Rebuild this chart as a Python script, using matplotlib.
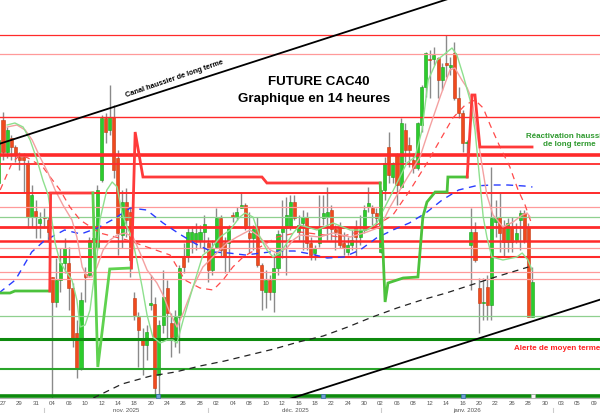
import matplotlib
matplotlib.use("Agg")
import matplotlib.pyplot as plt

plt.rcParams['font.family'] = ['Liberation Sans', 'DejaVu Sans']

# ---------------- DATA ----------------
opens = [8217, 8280, 8248, 8262, 8253, 8243, 8243, 8237, 8183, 8189,
         8177, 8183, 8180, 8123, 8098, 8120, 8137, 8137, 8112, 8067,
         8032, 8126, 8125, 8158, 8153, 8220, 8282, 8270, 8283, 8242,
         8165, 8198, 8188, 8102, 8083, 8062, 8055, 8095, 8096, 8025,
         8075, 8112, 8077, 8063, 8083, 8143, 8143, 8160, 8160, 8160,
         8168, 8157, 8130, 8153, 8182, 8157, 8157, 8185, 8183, 8192,
         8195, 8167, 8162, 8172, 8135, 8108, 8120, 8108, 8132, 8168,
         8172, 8173, 8198, 8168, 8177, 8183, 8157, 8147, 8157, 8182,
         8183, 8190, 8171, 8173, 8157, 8148, 8155, 8173, 8163, 8170,
         8193, 8192, 8187, 8148, 8210, 8253, 8223, 8245, 8213, 8270,
         8255, 8240, 8232, 8275, 8313, 8341, 8341, 8342, 8320, 8337,
         8333, 8347, 8302, 8287, 8257, 8155, 8168, 8112, 8097, 8113,
         8095, 8178, 8183, 8173, 8158, 8173, 8160, 8180, 8187, 8173,
         8083]
highs = [8280, 8288, 8273, 8265, 8255, 8248, 8247, 8240, 8215, 8200,
         8188, 8192, 8183, 8123, 8142, 8152, 8162, 8153, 8117, 8080,
         8108, 8133, 8163, 8168, 8215, 8285, 8287, 8315, 8295, 8250,
         8210, 8212, 8193, 8108, 8088, 8072, 8075, 8125, 8103, 8080,
         8130, 8120, 8087, 8090, 8135, 8157, 8172, 8174, 8177, 8175,
         8185, 8163, 8160, 8192, 8185, 8163, 8175, 8188, 8193, 8208,
         8197, 8188, 8175, 8183, 8137, 8130, 8125, 8147, 8170, 8200,
         8203, 8205, 8205, 8185, 8190, 8188, 8163, 8155, 8205, 8205,
         8213, 8195, 8175, 8178, 8168, 8163, 8170, 8180, 8185, 8195,
         8213, 8195, 8192, 8210, 8243, 8268, 8238, 8247, 8282, 8277,
         8263, 8247, 8278, 8315, 8348, 8350, 8353, 8343, 8337, 8365,
         8343, 8358, 8313, 8290, 8260, 8192, 8178, 8122, 8122, 8125,
         8233, 8200, 8207, 8180, 8182, 8183, 8177, 8190, 8190, 8177,
         8133]
lows = [8210, 8240, 8242, 8240, 8238, 8230, 8208, 8172, 8173, 8162,
        8162, 8172, 8158, 8000, 8093, 8108, 8127, 8090, 8053, 8022,
        8030, 8098, 8123, 8145, 8150, 8218, 8257, 8265, 8222, 8145,
        8152, 8163, 8123, 8080, 8033, 8025, 8040, 8090, 8004, 8005,
        8067, 8060, 8043, 8053, 8047, 8127, 8138, 8147, 8150, 8152,
        8148, 8118, 8125, 8152, 8143, 8127, 8128, 8178, 8180, 8192,
        8170, 8147, 8150, 8133, 8090, 8092, 8100, 8088, 8125, 8142,
        8125, 8170, 8180, 8160, 8150, 8150, 8140, 8140, 8153, 8175,
        8160, 8160, 8150, 8152, 8145, 8145, 8150, 8143, 8155, 8167,
        8188, 8175, 8175, 8147, 8200, 8217, 8217, 8195, 8212, 8238,
        8233, 8227, 8230, 8268, 8303, 8302, 8335, 8302, 8310, 8323,
        8325, 8300, 8282, 8248, 8238, 8110, 8138, 8067, 8080, 8080,
        8080, 8163, 8148, 8143, 8148, 8148, 8157, 8150, 8157, 8083,
        8083]
closes = [8260, 8248, 8270, 8253, 8245, 8240, 8240, 8183, 8205, 8183,
          8181, 8182, 8168, 8098, 8120, 8137, 8152, 8112, 8060, 8032,
          8100, 8123, 8160, 8162, 8210, 8282, 8268, 8283, 8230, 8167,
          8198, 8180, 8140, 8085, 8070, 8055, 8068, 8097, 8012, 8075,
          8103, 8087, 8063, 8083, 8132, 8133, 8168, 8168, 8167, 8168,
          8176, 8130, 8152, 8182, 8150, 8143, 8172, 8183, 8188, 8195,
          8172, 8162, 8171, 8135, 8110, 8120, 8108, 8132, 8166, 8172,
          8185, 8198, 8182, 8175, 8183, 8157, 8145, 8152, 8172, 8187,
          8188, 8171, 8168, 8155, 8153, 8155, 8160, 8163, 8170, 8190,
          8197, 8187, 8182, 8210, 8237, 8225, 8237, 8215, 8277, 8250,
          8250, 8232, 8277, 8313, 8347, 8340, 8345, 8320, 8333, 8335,
          8335, 8302, 8287, 8257, 8258, 8168, 8140, 8097, 8098, 8095,
          8182, 8183, 8167, 8158, 8177, 8158, 8167, 8187, 8160, 8083,
          8118]

# short moving average (light green)
ma_fast_x = [2.0, 3.9, 5.9, 7.6, 9.3, 10.7, 12.0, 12.9, 13.7, 14.9, 16.1, 17.8, 19.0,
             19.8, 21.0, 22.2, 22.9, 23.9, 24.6, 26.3, 27.6, 28.8, 30.0, 31.2, 32.4,
             33.6, 34.9, 36.1, 37.5, 39.3, 41.0, 42.4, 43.4, 44.9, 47.3, 49.7, 51.4,
             53.9, 56.3, 58.7, 60.0, 61.9, 63.6, 65.3, 66.8, 68.5, 70.2, 71.7, 73.4,
             77.5, 81.4, 85.6, 89.7, 92.1, 93.3, 95.3, 97.7, 99.4, 101.4, 103.1, 104.6,
             106.8, 109.2, 110.4, 111.6, 113.1, 114.8, 116.0, 116.7, 118.0, 118.9,
             120.1, 122.8, 126.2, 127.5, 128.9, 129.9]
ma_fast_y = [8275, 8277, 8273, 8260, 8240, 8220, 8205, 8180, 8157, 8138, 8130, 8120, 8100,
             8073, 8075, 8090, 8113, 8145, 8180, 8210, 8218, 8213, 8187, 8173, 8163,
             8140, 8113, 8085, 8063, 8057, 8060, 8060, 8057, 8080, 8113, 8145, 8150,
             8163, 8170, 8183, 8187, 8183, 8163, 8150, 8143, 8147, 8157, 8167, 8175,
             8170, 8177, 8170, 8170, 8177, 8187, 8203, 8223, 8237, 8243, 8270, 8320,
             8340, 8348, 8352, 8345, 8325, 8300, 8270, 8240, 8183, 8163,
             8143, 8140, 8143, 8147, 8140, 8130]

# medium moving average (pink)
ma_mid_x = [2.0, 4.4, 6.4, 8.1, 10.0, 12.0, 13.7, 15.6, 17.8, 19.0, 20.3, 21.5, 22.7,
            23.9, 25.4, 27.1, 28.8, 30.7, 32.7, 34.4, 36.1, 38.5, 40.0, 41.7, 43.4,
            44.9, 47.3, 49.7, 53.1, 55.6, 58.0, 61.2, 63.6, 66.1, 67.8, 70.2, 71.7,
            73.4, 78.2, 81.4, 85.6, 89.7, 92.9, 95.3, 97.7, 100.2, 102.6, 105.0, 107.5,
            109.9, 111.1, 112.8, 114.1, 115.3, 116.5, 117.7, 118.9, 120.4, 122.8,
            125.3, 127.5, 128.7, 129.4]
ma_mid_y = [8273, 8275, 8270, 8260, 8243, 8227, 8210, 8195, 8180, 8163, 8133, 8123, 8123,
            8133, 8150, 8160, 8165, 8167, 8163, 8147, 8130, 8117, 8105, 8087, 8073,
            8087, 8113, 8133, 8147, 8157, 8163, 8170, 8163, 8150, 8147, 8152, 8160,
            8165, 8163, 8167, 8163, 8168, 8173, 8193, 8210, 8227, 8243, 8273, 8303,
            8330, 8332, 8320, 8312, 8300, 8267, 8235, 8205, 8185, 8173,
            8178, 8185, 8187, 8183]

# red dashed moving average
ma_red_x = [0.3, 3.2, 5.1, 7.1, 10.7, 12.5, 14.9, 17.3, 19.8, 24.6, 31.2, 36.8, 41.7,
            45.3, 49.0, 52.2, 54.6, 57.0, 59.5, 67.8, 73.4, 83.1, 90.9, 96.0, 100.2,
            104.3, 107.5, 110.6, 113.6, 116.0, 118.0, 119.7, 122.1, 124.5, 126.5,
            128.2, 129.9]
ma_red_y = [8210, 8237, 8245, 8242, 8233, 8223, 8210, 8193, 8180, 8167, 8160, 8152, 8145,
            8120, 8112, 8110, 8120, 8133, 8143, 8163, 8168, 8163, 8172, 8185, 8210,
            8237, 8260, 8282, 8295, 8300, 8292, 8275, 8253, 8233, 8210,
            8195, 8175]

# blue dashed moving average
ma_blue_x = [0, 4, 8, 11, 16, 20, 24, 28, 32, 36, 40, 44, 48, 52, 56, 60, 64, 68, 72,
             76, 80, 84, 88, 92, 96, 100, 104, 108, 112, 116, 120, 124, 128, 130]
ma_blue_y = [8107, 8120, 8148, 8159, 8170, 8166, 8172, 8181, 8192, 8190, 8177, 8166, 8156,
             8148, 8147, 8145, 8147, 8149, 8149, 8146, 8142, 8143, 8150, 8162, 8170,
             8177, 8187, 8200, 8210, 8214, 8215, 8215, 8214, 8213]

# black dashed long moving average
ma_long_x = [23, 30, 37, 43, 49, 55, 61, 67, 73, 79, 85, 91, 97, 103, 109, 115, 121, 129]
ma_long_y = [8002, 8016, 8024, 8028, 8034, 8039, 8045, 8051, 8058, 8064, 8073, 8083, 8092,
             8100, 8107, 8115, 8123, 8133]

# trailing stop indicator (segments, green = support, red = resistance)
stop_green1_x = [0, 2.7, 3.9, 12.0, 12.4]
stop_green1_y = [8107, 8107, 8109, 8109, 8109]
stop_red1_x = [12.4, 12.6, 22.9]
stop_red1_y = [8109, 8207, 8207]
stop_green2_x = [22.9, 24.1, 27.0, 32.2]
stop_green2_y = [8207, 8033, 8131, 8132]
stop_red2_x = [32.3, 33.2, 35.1, 64.1, 65.3, 92.9]
stop_red2_y = [8132, 8268, 8223, 8223, 8217, 8217]
stop_green3_x = [92.9, 94.1, 94.8, 98.5, 102.1, 103.3, 104.3, 106.3, 109.2, 109.4, 114.1]
stop_green3_y = [8217, 8098, 8117, 8122, 8123, 8183, 8198, 8208, 8208, 8223, 8223]
stop_red3_x = [114.1, 115.3, 116.0, 117.2, 129.9]
stop_red3_y = [8223, 8305, 8305, 8253, 8253]

# horizontal levels
level_prices = [8365, 8346, 8283, 8245, 8236, 8207, 8193, 8183, 8173, 8159, 8152,
                8143, 8128, 8121, 8084, 8061, 8031, 8004]

# channel lines
canal_up_x = [0, 120]
canal_up_y = [8256, 8415]
canal_low_x = [70, 150]
canal_low_y = [8000, 8105]

event_x = [38.8, 79.0, 113.1, 130.1]

tick_labels = ['27', '29', '31', '04', '06', '10', '12', '14', '18', '20', '24', '26', '28',
               '02', '04', '08', '10', '12', '16', '18', '22', '24', '30',
               '02', '06', '08', '12', '14', '16', '20', '22', '26', '28', '30',
               '03', '05', '09']
month_labels = ['nov. 2025', 'déc. 2025', 'janv. 2026']
month_label_x = [31.0, 72.2, 114.1]
month_sep_x = [11, 51, 93.2, 135]

# ---------------- STYLE ----------------
RED = '#ff2a2a'
LRED = '#ff9a9a'
GREEN_D = '#0e8a0e'
GREEN_M = '#2aa52a'
LGREEN = '#8fd08f'

level_styles = [
    (RED, 0.9), (LRED, 0.9), (RED, 1.0), (RED, 2.6), (RED, 1.3), (RED, 1.4),
    (LRED, 0.9), (LGREEN, 0.9), (RED, 2.0), (RED, 1.8), (LRED, 0.9),
    (RED, 1.5), (LRED, 0.9), (LRED, 0.9), (LGREEN, 0.9), (GREEN_D, 2.2),
    (GREEN_M, 1.5), (GREEN_D, 2.6),
]

fig = plt.figure(figsize=(6, 4.13), dpi=100)
ax = fig.add_axes([0, 15 / 413, 1, 398 / 413])
ax.set_xlim(0.268, 146.46)
ax.set_ylim(8002, 8400)

# levels
for p, (c, lw) in zip(level_prices, level_styles):
    ax.axhline(p, color=c, lw=lw, zorder=4)

# candles
xs = list(range(len(opens)))
ax.vlines(xs, lows, highs, color='#8a8a8a', lw=1.0, zorder=2)
bottoms = [min(o, c) for o, c in zip(opens, closes)]
heights = [max(abs(c - o), 1.2) for o, c in zip(opens, closes)]
face = ['#2ccd2c' if c >= o else '#f04a1e' for o, c in zip(opens, closes)]
edge = ['#18a018' if c >= o else '#c43a12' for o, c in zip(opens, closes)]
ax.bar(xs, heights, bottom=bottoms, width=0.74, color=face, edgecolor=edge,
       linewidth=0.4, zorder=3)

# moving averages
ax.plot(ma_long_x, ma_long_y, color='#222222', lw=0.9, ls=(0, (5, 4)), zorder=5)
ax.plot(ma_blue_x, ma_blue_y, color='#2a3cff', lw=1.0, ls=(0, (5, 4)), zorder=5)
ax.plot(ma_red_x, ma_red_y, color='#ff4a4a', lw=0.9, ls=(0, (5, 4)), zorder=5)
ax.plot(ma_mid_x, ma_mid_y, color='#f4a0a0', lw=1.0, zorder=5)
ax.plot(ma_fast_x, ma_fast_y, color='#8ee08e', lw=1.0, zorder=5)

# stop indicator
for sx, sy, c in [(stop_green1_x, stop_green1_y, '#4cc23c'),
                  (stop_red1_x, stop_red1_y, '#ff3a3a'),
                  (stop_green2_x, stop_green2_y, '#5fd24f'),
                  (stop_red2_x, stop_red2_y, '#ff3a3a'),
                  (stop_green3_x, stop_green3_y, '#4cc23c'),
                  (stop_red3_x, stop_red3_y, '#ff3a3a')]:
    ax.plot(sx, sy, color=c, lw=2.0, zorder=6, solid_joinstyle='miter')

# channel
ax.plot(canal_up_x, canal_up_y, color='black', lw=1.3, zorder=7)
ax.plot(canal_low_x, canal_low_y, color='black', lw=1.3, zorder=7)

# event markers
ax.scatter(event_x[:3], [8004] * 3, marker='s', s=10, facecolor='#6f9fd0',
           edgecolor='#3a6ea8', linewidth=0.5, zorder=8)
ax.scatter(event_x[3:], [8004], marker='s', s=10, facecolor='#f4f4f4',
           edgecolor='#aaaaaa', linewidth=0.5, zorder=8)

# texts
ax.text(78.0, 8318, 'FUTURE CAC40', ha='center', va='center', fontsize=9.6,
        fontweight='bold', color='black', zorder=9)
ax.text(76.8, 8301, 'Graphique en 14 heures', ha='center', va='center', fontsize=9.6,
        fontweight='bold', color='black', zorder=9)
ax.text(42.9, 8321, 'Canal haussier de long terme', ha='center', va='center',
        fontsize=5.3, fontweight='bold', rotation=19, rotation_mode='anchor', zorder=9)
ax.text(139.0, 8260, 'Réactivation haussière\nde long terme', ha='center', va='center',
        fontsize=5.8, fontweight='bold', color='#2f9a2f', linespacing=1.2, zorder=9)
ax.text(135.9, 8052, 'Alerte de moyen terme', ha='center', va='center',
        fontsize=5.8, fontweight='bold', color='#ff2222', zorder=9)

# axes
for s in ['top', 'left', 'right']:
    ax.spines[s].set_visible(False)
ax.spines['bottom'].set_color('#b0b0b0')
ax.spines['bottom'].set_linewidth(0.8)
ax.set_yticks([])
ax.set_xticks([1 + 4 * i for i in range(len(tick_labels))])
ax.set_xticklabels(tick_labels)
ax.tick_params(axis='x', length=0, pad=2.2, labelsize=4.4, labelcolor='#555555')

xt = ax.get_xaxis_transform()
for mx, ml in zip(month_label_x, month_labels):
    ax.text(mx, -0.031, ml, transform=xt, ha='center', va='center', fontsize=4.4,
            color='#555555', clip_on=False)
for sx in month_sep_x:
    ax.plot([sx, sx], [-0.024, -0.045], transform=xt, color='#cccccc', lw=0.8,
            clip_on=False)

fig.savefig('out.png', dpi=100)
